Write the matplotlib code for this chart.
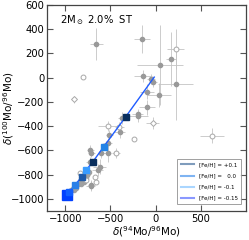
import matplotlib
matplotlib.use('Agg')
import matplotlib.pyplot as plt
from matplotlib.lines import Line2D

# grain data with error bars (filled = measured grains)
filled_x = [-655, -149, 170, 51, -141, -51, -29, -95, 40, 221, -95, -196,
            -196, -366, -511, -395, -529, -710, -529, -601, -638, -717, -728,
            -721, -620, -710]
filled_y = [280, 320, 155, 105, 17, -13, -33, -115, -140, -51, -244, -301,
            -313, -335, -472, -445, -541, -618, -618, -623, -761, -893, -692,
            -596, -733, -885]
filled_xerr = [70, 90, 60, 255, 100, 40, 40, 80, 130, 190, 90, 60,
               110, 50, 40, 60, 50, 40, 40, 40, 60, 50, 40,
               40, 70, 40]
filled_yerr = [130, 115, 220, 330, 50, 40, 40, 60, 100, 300, 60, 40,
               50, 50, 40, 50, 40, 40, 75, 40, 50, 40, 40,
               40, 60, 40]

# dense grey cluster along the lower part of the line
cluster_x = [-980, -960, -945, -930, -915, -900, -885, -870, -860, -850,
             -840, -830, -815, -800, -790, -775, -760, -750, -740, -905, -880,
             -825, -790, -765]
cluster_y = [-960, -950, -935, -930, -915, -905, -895, -880, -875, -870,
             -860, -850, -840, -830, -820, -810, -800, -790, -780, -925, -910,
             -875, -860, -830]

open_x = [221, -808, -529, -402, -239, 623, -438, -674, -656, -837, -764]
open_y = [235, 3, -398, -404, -508, -478, -623, -816, -857, -788, -843]
open_xerr = [90, 0, 110, 50, 0, 135, 40, 0, 0, 0, 0]
open_yerr = [165, 0, 40, 40, 0, 60, 40, 0, 0, 0, 0]

diamond_x = [-902, -33]
diamond_y = [-178, -376]
diamond_xerr = [30, 70]
diamond_yerr = [30, 50]

# model line and its points
line_x = [-985, -955, -890, -820, -765, -692, -573, -329, -15]
line_y = [-975, -945, -885, -820, -760, -692, -569, -321, 5]

sq_x = [-982, -953, -891, -819, -764, -692, -573, -329]
sq_y = [-967, -940, -885, -821, -761, -692, -569, -321]
sq_colors = ['#0040ff', '#1060ff', '#2a80e8', '#1f5aa8', '#3a9cff',
             '#0a2f5e', '#2283e6', '#0a2f5e']
sq_sizes = [6.5, 4.5, 4.2, 4.2, 4.2, 4.2, 4, 4]

legend_labels = ['[Fe/H] = +0.1', '[Fe/H] =   0.0', '[Fe/H] = -0.1', '[Fe/H] = -0.15']
legend_colors = ['#7f9cbc', '#7fb4f2', '#aad6ff', '#8a98ff']

plt.rcParams['font.family'] = 'DejaVu Sans'

fig = plt.figure(figsize=(2.49, 2.40), dpi=100)
ax = fig.add_axes([0.189, 0.121, 0.799, 0.858])

ebar_col = '#c4c4c4'
ax.errorbar(filled_x, filled_y, xerr=filled_xerr, yerr=filled_yerr, fmt='o',
            color='#999999', ms=3, ecolor=ebar_col, elinewidth=0.6, capsize=0, zorder=2)
ax.plot(cluster_x, cluster_y, 'o', color='#a0a0a0', ms=3, zorder=2)
ax.errorbar(open_x, open_y, xerr=open_xerr, yerr=open_yerr, fmt='o',
            mfc='white', mec='#a8a8a8', ms=3.5, mew=0.7, ecolor=ebar_col,
            elinewidth=0.6, capsize=0, zorder=2)
ax.errorbar(diamond_x, diamond_y, xerr=diamond_xerr, yerr=diamond_yerr, fmt='D',
            mfc='white', mec='#a8a8a8', ms=3, mew=0.7, ecolor=ebar_col,
            elinewidth=0.6, capsize=0, zorder=2)

ax.plot(line_x, line_y, '-', color='#1f5cff', lw=1.0, zorder=3)
for x, y, c, s in zip(sq_x, sq_y, sq_colors, sq_sizes):
    ax.plot(x, y, 's', color=c, ms=s, zorder=4)

ax.set_xlim(-1200, 1000)
ax.set_ylim(-1100, 600)
ax.set_xticks([-1000, -500, 0, 500])
ax.set_yticks(range(-1000, 601, 200))
ax.tick_params(direction='in', length=4, width=0.8, labelsize=7.2,
               top=True, right=True, color='#555555', pad=2)
for sp in ax.spines.values():
    sp.set_color('#444444')
    sp.set_linewidth(0.9)

ax.set_xlabel(r'$\delta$($^{94}$Mo/$^{96}$Mo)', fontsize=7.5, labelpad=0)
ax.set_ylabel(r'$\delta$($^{100}$Mo/$^{96}$Mo)', fontsize=7.5, va='center')
ax.yaxis.set_label_coords(-0.195, 0.5)

ax.text(0.065, 0.925, r'2M$_\odot$ 2.0%  ST', transform=ax.transAxes,
        fontsize=7.2, va='center', ha='left')

handles = [Line2D([0], [0], color=c, lw=1.5) for c in legend_colors]
leg = ax.legend(handles, legend_labels, loc='lower right', fontsize=4.0,
                frameon=True, fancybox=False, edgecolor='#888888',
                handlelength=2.5, labelspacing=1.1, borderpad=0.6,
                bbox_to_anchor=(0.99, 0.02))
leg.get_frame().set_linewidth(0.7)

fig.savefig('out.png', dpi=100)
